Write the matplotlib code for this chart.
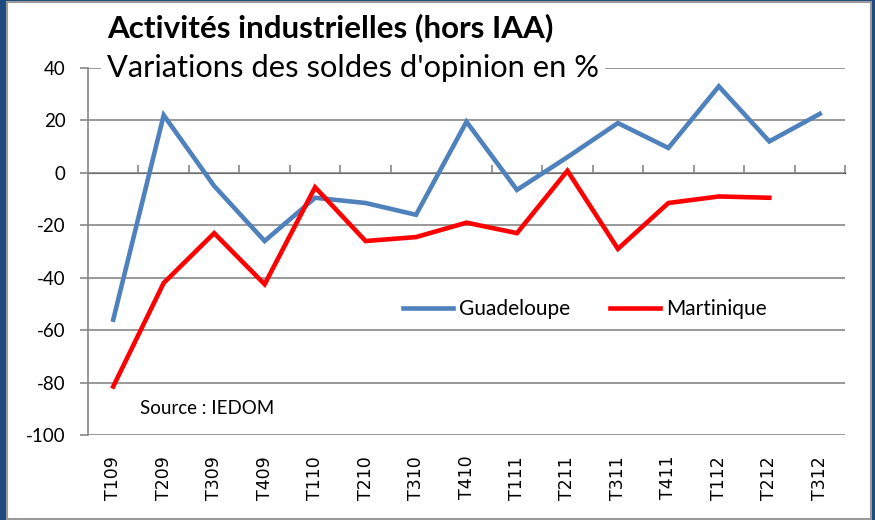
import matplotlib
matplotlib.use('Agg')
import matplotlib.pyplot as plt
from matplotlib.patches import Rectangle
from matplotlib.lines import Line2D

plt.rcParams['font.family'] = 'Lato'
plt.rcParams['axes.unicode_minus'] = False
plt.rcParams['ytick.labelsize'] = 13.5

quarters = ['T109', 'T209', 'T309', 'T409', 'T110', 'T210', 'T310', 'T410',
            'T111', 'T211', 'T311', 'T411', 'T112', 'T212', 'T312']
guadeloupe = [-56, 22, -5, -26, -9.5, -11.5, -16, 19.5,
              -6.5, 6, 19, 9.5, 33, 12, 22.5]
martinique = [-81.5, -42, -23, -42.5, -5.5, -26, -24.5, -19,
              -23, 0.8, -29, -11.5, -9, -9.5]

COLOR_GUA = '#4F81BD'
COLOR_MAR = '#FF0000'
GRID = '#878787'
FRAME_BLUE = '#1F4A7E'

fig = plt.figure(figsize=(8.75, 5.2), dpi=100, facecolor=FRAME_BLUE)
# white chart area with grey border inside the blue frame
fig.patches.append(Rectangle((7 / 875, 1 / 520), 864 / 875, 517 / 520,
                             transform=fig.transFigure, facecolor='white',
                             edgecolor='#9A9A9A', linewidth=1.5, zorder=-10))

ax = fig.add_axes([88 / 875, 1 - 435 / 520, 757 / 875, 367 / 520])
ax.set_facecolor('none')

x = list(range(len(quarters)))
ax.plot(x, guadeloupe, color=COLOR_GUA, linewidth=3.3, solid_joinstyle='miter', zorder=3)
ax.plot(x[:len(martinique)], martinique, color=COLOR_MAR, linewidth=3.3,
        solid_joinstyle='miter', zorder=3)

ax.set_xlim(-0.5, len(quarters) - 0.5)
ax.set_ylim(-100, 40)
ax.set_yticks(range(-100, 41, 20))
ax.yaxis.grid(True, color=GRID, linewidth=1.2)
ax.set_axisbelow(True)
ax.tick_params(axis='y', length=6, width=1.2, color=GRID, pad=10)

for s in ['top', 'right', 'bottom']:
    ax.spines[s].set_visible(False)
ax.spines['left'].set_color(GRID)
ax.spines['left'].set_linewidth(1.2)

# category labels at the bottom, rotated
ax.set_xticks(x)
ax.set_xticklabels([])
ax.tick_params(axis='x', length=0)
for xi, q in zip(x, quarters):
    ax.annotate(q, xy=(xi, 0), xycoords=('data', 'axes fraction'),
                xytext=(0, -15), textcoords='offset points',
                rotation=90, ha='center', va='top',
                fontfamily='DejaVu Sans', fontsize=12.5)

# category axis crossing at 0 with boundary ticks
sec = ax.secondary_xaxis(100 / 140)
sec.spines['bottom'].set_color(GRID)
sec.spines['bottom'].set_linewidth(1.2)
sec.set_xticks([i + 0.5 for i in range(len(quarters))])
sec.set_xticklabels([])
sec.tick_params(axis='x', direction='out', length=6, width=1.2, color=GRID)

fig.text(107 / 875, 1 - 28 / 520, 'Activités industrielles (hors IAA)',
         fontsize=22.6, fontweight='bold', va='center', ha='left')
fig.text(107 / 875, 1 - 68 / 520, "Variations des soldes d'opinion en %",
         fontsize=22.2, va='center', ha='left',
         bbox=dict(facecolor='white', edgecolor='none', pad=4))

handles = [Line2D([], [], color=COLOR_GUA, linewidth=3.3),
           Line2D([], [], color=COLOR_MAR, linewidth=3.3)]
ax.legend(handles, ['Guadeloupe', 'Martinique'], ncol=2, frameon=False,
          loc='center', bbox_to_anchor=((585 - 88) / 757, (435 - 309) / 367),
          fontsize=15, handlelength=2.4, handletextpad=0.3, columnspacing=1.9)

fig.text(140 / 875, 1 - 408 / 520, 'Source : IEDOM', fontsize=13.5,
         va='center', ha='left')

fig.savefig('out.png', dpi=100, facecolor=fig.get_facecolor())
